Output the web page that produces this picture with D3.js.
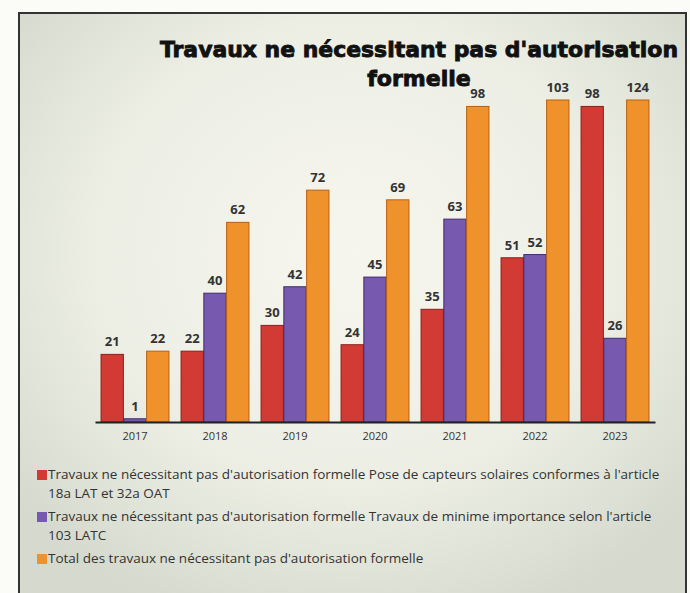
<!DOCTYPE html>
<html lang="fr">
  <head>
    <meta charset="UTF-8" />
    <title>Travaux ne nécessitant pas d'autorisation formelle</title>
    <script src="https://d3js.org/d3.v7.min.js"></script>
    <style>
      body { margin: 0; background: #fbfbf7; }
      .axis-x path { stroke: #222; stroke-width: 2; }
      .axis-x .tick line { display: none; }
      .axis-x text { font-family: 'Open Sans', sans-serif; font-size: 11px; fill: #333; }
    </style>
  </head>
  <body>
    <div id="chart"></div>
    <script>
      // values
      const years = ['2017', '2018', '2019', '2020', '2021', '2022', '2023'];
      const solaires = [21, 22, 30, 24, 35, 51, 98];
      const minime = [1, 40, 42, 45, 63, 52, 26];
      const total = [22, 62, 72, 69, 98, 103, 124];

      const seriesNames = [
        "Travaux ne nécessitant pas d'autorisation formelle Pose de capteurs solaires conformes à l'article|18a LAT et 32a OAT",
        "Travaux ne nécessitant pas d'autorisation formelle Travaux de minime importance selon l'article|103 LATC",
        "Total des travaux ne nécessitant pas d'autorisation formelle"
      ];
      const colors = ['#d23b33', '#7759b0', '#f0922c'];
      const strokes = ['#8a1f1a', '#3e2b70', '#b85f10'];

      const series = [solaires, minime, total];

      const W = 690, H = 593;
      const svg = d3.select('#chart').append('svg')
        .attr('width', W).attr('height', H);

      const defs = svg.append('defs');
      const grad = defs.append('radialGradient').attr('id', 'bg')
        .attr('cx', '50%').attr('cy', '40%').attr('r', '65%');
      grad.append('stop').attr('offset', '0%').attr('stop-color', '#f7f6ee');
      grad.append('stop').attr('offset', '60%').attr('stop-color', '#eceee4');
      grad.append('stop').attr('offset', '100%').attr('stop-color', '#d6dace');

      // frame
      svg.append('rect')
        .attr('x', 19).attr('y', 13).attr('width', 667).attr('height', 600)
        .attr('fill', 'url(#bg)')
        .attr('stroke', '#333').attr('stroke-width', 2);

      // title (heavy black)
      const title = svg.append('text')
        .attr('text-anchor', 'middle')
        .style('font-family', 'DejaVu Sans, sans-serif')
        .style('font-weight', 'bold')
        .style('font-size', '22px')
        .attr('fill', '#111')
        .attr('stroke', '#111')
        .attr('stroke-width', 0.9);
      title.append('tspan').attr('x', 419).attr('y', 57)
        .attr('textLength', 518).attr('lengthAdjust', 'spacingAndGlyphs')
        .text("Travaux ne nécessitant pas d'autorisation");
      title.append('tspan').attr('x', 419).attr('y', 86)
        .text('formelle');

      // scales (bars above 100 are cut at the top of the plot, as in the source)
      const x = d3.scaleBand().domain(years).range([95, 655]).paddingInner(0.14).paddingOuter(0.07);
      const xs = d3.scaleBand().domain([0, 1, 2]).range([0, x.bandwidth()]).padding(0.02);
      const y = d3.scaleLinear().domain([0, 100]).range([422, 100]).clamp(true);

      const groups = svg.selectAll('.grp')
        .data(years)
        .enter().append('g')
        .attr('class', 'grp')
        .attr('transform', d => `translate(${x(d)},0)`);

      groups.each(function (yr, i) {
        const g = d3.select(this);
        series.forEach((s, k) => {
          const v = s[i];
          g.append('rect')
            .attr('x', xs(k))
            .attr('y', y(v))
            .attr('width', xs.bandwidth())
            .attr('height', y(0) - y(v))
            .attr('fill', colors[k])
            .attr('stroke', strokes[k])
            .attr('stroke-width', 1);
          g.append('text')
            .attr('x', xs(k) + xs.bandwidth() / 2)
            .attr('y', y(v) - 8)
            .attr('text-anchor', 'middle')
            .style('font-family', 'Open Sans, sans-serif')
            .style('font-weight', 'bold')
            .style('font-size', '13px')
            .attr('fill', '#333')
            .text(v);
        });
      });

      svg.append('g')
        .attr('class', 'axis-x')
        .attr('transform', 'translate(0,422)')
        .call(d3.axisBottom(x).tickSize(0).tickPadding(10).tickSizeOuter(0));

      // legend
      const legY = [479, 521, 563];
      seriesNames.forEach((name, k) => {
        const lg = svg.append('g').attr('transform', `translate(37,${legY[k]})`);
        lg.append('rect').attr('x', 0).attr('y', -9).attr('width', 10).attr('height', 10)
          .attr('fill', colors[k]);
        const t = lg.append('text')
          .style('font-family', 'Open Sans, sans-serif')
          .style('font-size', '13.5px')
          .attr('fill', '#333');
        name.split('|').forEach((line, j) => {
          t.append('tspan').attr('x', 11).attr('y', j * 19).text(line);
        });
      });
    </script>
  </body>
</html>
